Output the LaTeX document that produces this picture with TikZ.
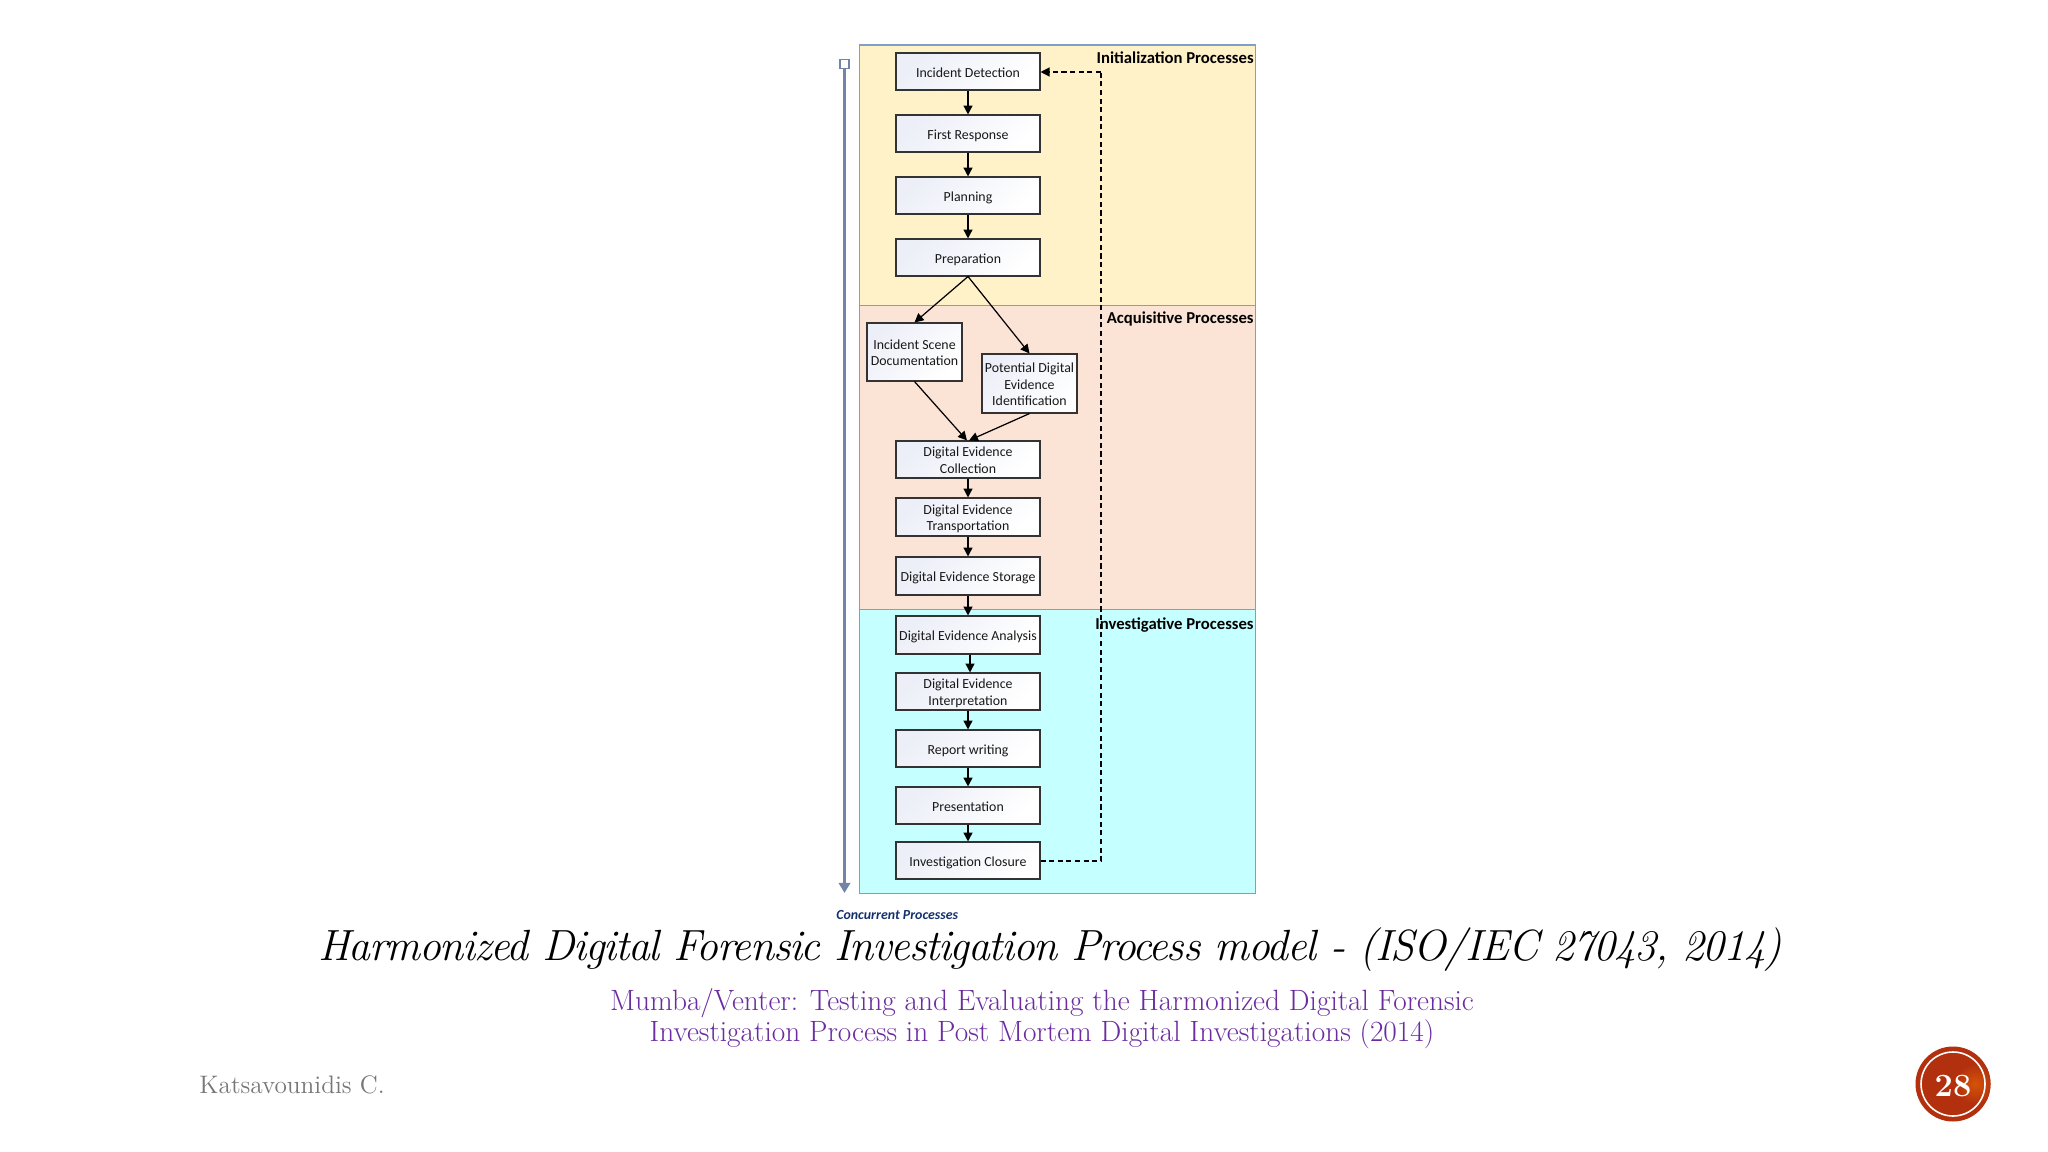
\documentclass[tikz,border=0pt]{standalone}
\usepackage{fontspec}
\setsansfont{Carlito}
\newfontfamily\titlefont[LetterSpace=-3]{Latin Modern Roman}
\usetikzlibrary{arrows.meta,calc}
\newdimen\pxu \pxu=0.02cm
\definecolor{paneledge}{HTML}{7F9FC6}
\definecolor{initfill}{HTML}{FFF1C8}
\definecolor{acqfill}{HTML}{FBE3D6}
\definecolor{invfill}{HTML}{C6FFFF}
\definecolor{boxtint}{HTML}{EDEFF8}
\definecolor{sidebar}{HTML}{7483A8}
\definecolor{concur}{HTML}{16326E}
\definecolor{refpurple}{HTML}{6A2CA0}
\definecolor{authgray}{HTML}{777777}
\definecolor{badgered}{HTML}{B3300E}
\tikzset{
  x=0.02cm,y=-0.02cm,
  panel/.style={draw=paneledge,line width=0.75pt,inner sep=0pt,anchor=north west},
  procbox/.style={draw=black!80,line width=0.6pt,inner sep=0pt,
    left color=boxtint,middle color=white,right color=white,shading angle=45,
    font=\sffamily\fontsize{7.9}{9.4}\selectfont,text=black!90},
  flow/.style={-{Triangle[width=5.1pt,length=5.1pt]},line width=0.85pt,black},
  diag/.style={-{Triangle[width=5.1pt,length=5.1pt]},line width=0.7pt,black},
  feedback/.style={line width=0.7pt,black,dash pattern=on 2.9pt off 2pt},
  phase/.style={anchor=east,inner sep=0pt,font=\sffamily\bfseries\fontsize{9.5}{11}\selectfont,text=black},
}
\newcommand{\procnode}[6]{% name x1 y1 x2 y2 text
  \node[procbox,minimum width={(#4-#2)*\pxu},minimum height={(#5-#3)*\pxu}] (#1) at ({(#2+#4)/2},{(#3+#5)/2}) {\raisebox{-1.3pt}[\height][\depth]{\begin{tabular}{@{}c@{}}#6\end{tabular}}};}
\begin{document}
\begin{tikzpicture}
\useasboundingbox (0,0) rectangle (2048,1152);
\fill[white] (0,0) rectangle (2048,1152);
% panels
\node[panel,fill=initfill,minimum width=396.5*\pxu,minimum height=260.5*\pxu] (pinit) at (858.5,44.5) {};
\node[panel,fill=acqfill,minimum width=396.5*\pxu,minimum height=304*\pxu] (pacq) at (858.5,305) {};
\node[panel,fill=invfill,minimum width=396.5*\pxu,minimum height=284*\pxu] (pinv) at (858.5,609) {};
% boxes
\procnode{detect}{896}{53}{1040}{90}{Incident Detection}
\procnode{first}{896}{115}{1040}{152}{First Response}
\procnode{plan}{896}{177}{1040}{214}{Planning}
\procnode{prep}{896}{239}{1040}{276}{Preparation}
\procnode{scene}{867}{323}{962}{381}{Incident Scene\\Documentation}
\procnode{ident}{982}{354}{1077}{413}{Potential Digital\\Evidence\\Identification}
\procnode{coll}{896}{441}{1040}{478}{Digital Evidence\\Collection}
\procnode{trans}{896}{498}{1040}{536}{Digital Evidence\\Transportation}
\procnode{store}{896}{557}{1040}{595}{Digital Evidence Storage}
\procnode{anal}{896}{616}{1040}{654}{Digital Evidence Analysis}
\procnode{interp}{896}{673}{1040}{710}{Digital Evidence\\Interpretation}
\procnode{report}{896}{730}{1040}{767}{Report writing}
\procnode{present}{896}{787}{1040}{824}{Presentation}
\procnode{close}{896}{842}{1040}{879}{Investigation Closure}
% flow
\draw[flow] (detect) -- (first);
\draw[flow] (first) -- (plan);
\draw[flow] (plan) -- (prep);
\draw[diag] (prep.south) -- (scene.north);
\draw[diag] (prep.south) -- (ident.north);
\draw[diag] (scene.south) -- ($(coll.north)+(-1,0)$);
\draw[diag] (ident.south) -- ($(coll.north)+(1,0)$);
\draw[flow] (coll) -- (trans);
\draw[flow] (trans) -- (store);
\draw[flow] (store) -- (anal);
\draw[flow] ($(anal.south)+(2,0)$) -- ($(interp.north)+(2,0)$);
\draw[flow] (interp) -- (report);
\draw[flow] (report) -- (present);
\draw[flow] (present) -- (close);
% feedback
\coordinate (fbtop) at (1101,72);
\coordinate (fbbot) at (1101,861);
\draw[feedback] (close.east |- fbbot) -- (fbbot) -- (fbtop);
\draw[feedback,-{Triangle[width=5.1pt,length=5.1pt]}] (fbtop) -- (detect.east |- fbtop);
% phase labels (printed over the dashed line)
\node[phase] (linit) at (1254,58) {Initialization Processes};
\node[phase] (lacq) at (1254,319) {Acquisitive Processes};
\node[phase] (linv) at (1254,625) {Investigative Processes};
% concurrent bar
\coordinate (cend) at (844.5,893);
\draw[sidebar,line width=1.4pt,-{Triangle[width=6.4pt,length=5.7pt]}] (844.5,64) -- (cend);
\node[draw=sidebar,fill=white,line width=1pt,minimum size=9*\pxu,inner sep=0pt] (cstart) at (844.5,64) {};
\node[anchor=west,inner sep=0pt,text=concur,font=\sffamily\bfseries\itshape\fontsize{7.9}{9}\selectfont] (clabel) at (836,915) {Concurrent Processes};
% captions
\node[inner sep=0pt,font=\titlefont\itshape\fontsize{24.85}{28}\selectfont,text=black] (title) at (1050,950) {Harmonized Digital Forensic Investigation Process model - (ISO/IEC 27043, 2014)};
\node[inner sep=0pt,align=center,text=refpurple,font=\fontsize{16.7}{17.6}\selectfont] (refs) at (1042,1019) {Mumba/Venter: Testing and Evaluating the Harmonized Digital Forensic\\Investigation Process in Post Mortem Digital Investigations (2014)};
\node[anchor=west,inner sep=0pt,text=authgray,font=\fontsize{14.4}{17}\selectfont] (author) at (199,1085) {Katsavounidis C.};
% badge
\fill[badgered] (1953,1084) circle (37.5);
\begin{scope}
\clip (1953,1084) circle (37.5);
\shade[inner color=orange!45!badgered,outer color=badgered] (1975,1084) circle (20);
\end{scope}
\draw[white,line width=0.9pt] (1953,1084) circle (32);
\node[inner sep=0pt,text=white,font=\bfseries\fontsize{18.5}{20}\selectfont] (page) at (1953,1086) {28};
\end{tikzpicture}
\end{document}
